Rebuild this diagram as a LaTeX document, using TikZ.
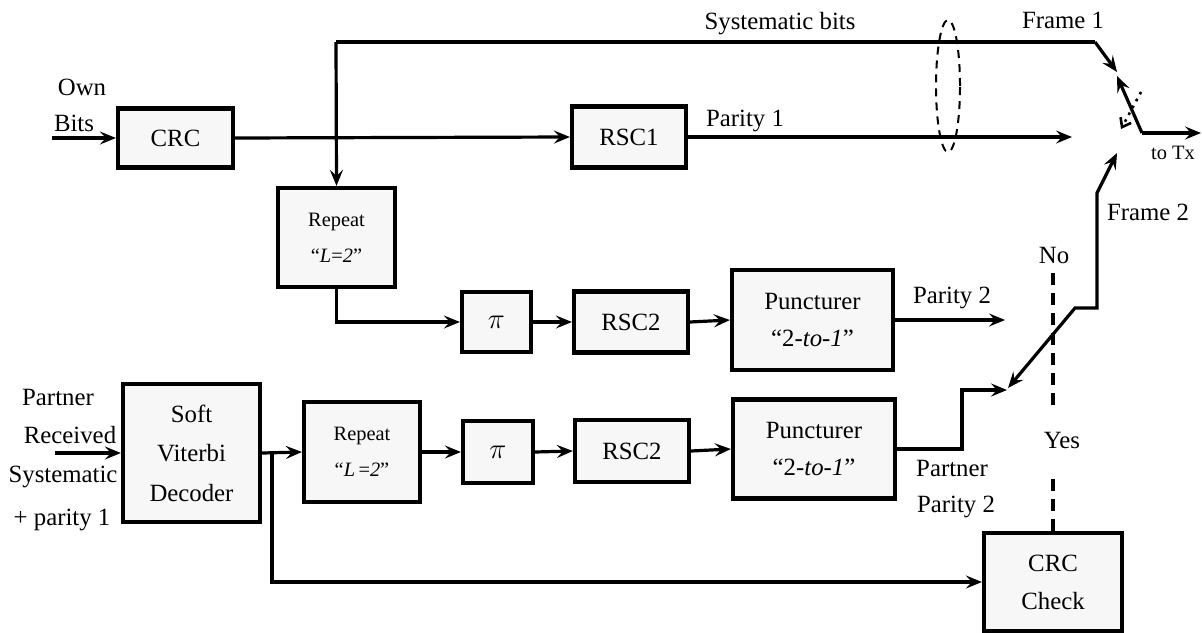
\documentclass[tikz,border=0pt]{standalone}
\usepackage{fontspec}
\setmainfont{Liberation Serif}
\usetikzlibrary{arrows.meta,shapes.geometric}
\begin{document}
\begin{tikzpicture}[x=0.5pt,y=-0.5pt,
  mf/.style={font=\fontsize{12.4}{14}\selectfont},
  sf/.style={font=\fontsize{10.2}{12}\selectfont},
  blk/.style={draw, line width=2.1pt, fill=gray!6, inner sep=0pt, align=center, mf},
  arr/.style={line width=1.6pt, -{Stealth[length=8pt,width=6.5pt,inset=3pt]}},
  darr/.style={line width=1.6pt, {Stealth[length=8pt,width=6.5pt,inset=3pt]}-{Stealth[length=8pt,width=6.5pt,inset=3pt]}},
  ln/.style={line width=1.6pt},
  lbl/.style={inner sep=0pt, mf},
  dsh/.style={line width=1.6pt, dash pattern=on 6pt off 4pt}]
\useasboundingbox (0,0) rectangle (1202,632);

% blocks
\node[blk, minimum width=57.5pt, minimum height=29.5pt] (crc) at (175.5,138) {CRC};
\node[blk, minimum width=57pt, minimum height=30.5pt] (rsc1) at (629,137) {RSC1};
\node[blk, sf, minimum width=58.5pt, minimum height=49.5pt] (rep1) at (336.5,237.5) {Repeat\\[6pt]“\textit{L}=\textit{2}”};
\node[blk, minimum width=34.5pt, minimum height=30pt, font=\fontsize{14}{16}\selectfont] (pi1) at (496.5,322) {$\pi$};
\node[blk, minimum width=57pt, minimum height=30.5pt] (rsc2a) at (631,322) {RSC2};
\node[blk, minimum width=80.5pt, minimum height=50pt] (punc1) at (812.5,320) {Puncturer\\[4.5pt]“2-\textit{to-1}”};

\node[blk, minimum width=68.5pt, minimum height=69pt] (sv) at (191.5,453) {Soft\\[5.75pt]Viterbi\\[5.75pt]Decoder};
\node[blk, sf, minimum width=58pt, minimum height=50pt] (rep2) at (362,452) {Repeat\\[6pt]“\textit{L}\,=\textit{2}”};
\node[blk, minimum width=35pt, minimum height=31pt, font=\fontsize{14}{16}\selectfont] (pi2) at (498,452) {$\pi$};
\node[blk, minimum width=57pt, minimum height=31pt] (rsc2b) at (632,451) {RSC2};
\node[blk, minimum width=81pt, minimum height=49.5pt] (punc2) at (814,449) {Puncturer\\[4.5pt]“2-\textit{to-1}”};
\node[blk, minimum width=69pt, minimum height=49pt] (chk) at (1053,582) {CRC\\[5pt]Check};

% group ellipse
\node[draw, ellipse, line width=1pt, dash pattern=on 4pt off 3pt, minimum width=12pt, minimum height=66pt, inner sep=0pt] (grp) at (948,86) {};

% coordinates
\coordinate (ownin) at (52,138);
\coordinate (sysL) at (336,42);
\coordinate (sysR) at (1095,42);
\coordinate (sw1) at (1117,72);
\coordinate (p1end) at (1072,137);
\coordinate (piv) at (1142,133);
\coordinate (swtop) at (1117,76);
\coordinate (txend) at (1201,133);
\coordinate (f2tip) at (1117,153);
\coordinate (f2a) at (1097,193);
\coordinate (f2b) at (1097,308);
\coordinate (f2c) at (1075,308);
\coordinate (f2d) at (1008,388);
\coordinate (ppx) at (962,390);
\coordinate (ppend) at (1007,390);
\coordinate (p2end) at (1005,320);
\coordinate (pin) at (55,453);
\coordinate (br) at (272,453);
\coordinate (d1) at (1053,474);
\coordinate (d2) at (1053,405);
\coordinate (d3) at (1053,270);
\coordinate (dotA) at (1141,92);
\coordinate (dotB) at (1121,129);

% upper chain
\draw[arr] (ownin) -- (crc.west);
\draw[arr] (crc.east) -- (rsc1.west);
\draw[ln] (sysL) -- (sysR);
\draw[arr] (sysL) -- (rep1.north);
\draw[arr] (sysR) -- (sw1);
\draw[arr] (rsc1.east) -- (p1end);
\draw[arr] (rep1.south) |- (pi1.west);
\draw[arr] (pi1.east) -- (rsc2a.west);
\draw[arr] (rsc2a.east) -- (punc1.west);
\draw[arr] (punc1.east) -- (p2end);

% switch
\draw[arr] (piv) -- (swtop);
\draw[arr] (piv) -- (txend);
\draw[line width=1.3pt, dash pattern=on 1.3pt off 2.6pt, -{Straight Barb[length=4pt,width=6pt]}] (dotA) -- (dotB);
\draw[darr] (f2d) -- (f2c) -- (f2b) -- (f2a) -- (f2tip);

% lower chain
\draw[arr] (pin) -- (sv.west);
\draw[arr] (sv.east) -- (rep2.west);
\draw[arr] (br) |- (chk.west);
\draw[arr] (rep2.east) -- (pi2.west);
\draw[arr] (pi2.east) -- (rsc2b.west);
\draw[arr] (rsc2b.east) -- (punc2.west);
\draw[arr] (punc2.east) -| (ppx) -- (ppend);

% yes/no dashed
\draw[dsh] (chk.north) -- (d1);
\draw[dsh] (d2) -- (d3);

% labels
\node[lbl] (own) at (82,87) {Own};
\node[lbl] (bits) at (74,123) {Bits};
\node[lbl] (sysb) at (780,24) {Systematic bits};
\node[lbl] (par1) at (745,121) {Parity 1};
\node[lbl] (fr1) at (1063,20) {Frame 1};
\node[lbl, sf] (totx) at (1173,153) {to Tx};
\node[lbl] (fr2) at (1148,212) {Frame 2};
\node[lbl] (no) at (1054,255) {No};
\node[lbl] (par2) at (952,298) {Parity 2};
\node[lbl] (yes) at (1062,440) {Yes};
\node[lbl] (pp) at (952,468) {Partner};
\node[lbl] (pp2) at (956,507) {Parity 2};
\node[lbl] (partner) at (58,397) {Partner};
\node[lbl] (recv) at (70,435) {Received};
\node[lbl] (syst) at (63,477) {Systematic};
\node[lbl] (par1b) at (62,520) {+ parity 1};
\end{tikzpicture}
\end{document}
